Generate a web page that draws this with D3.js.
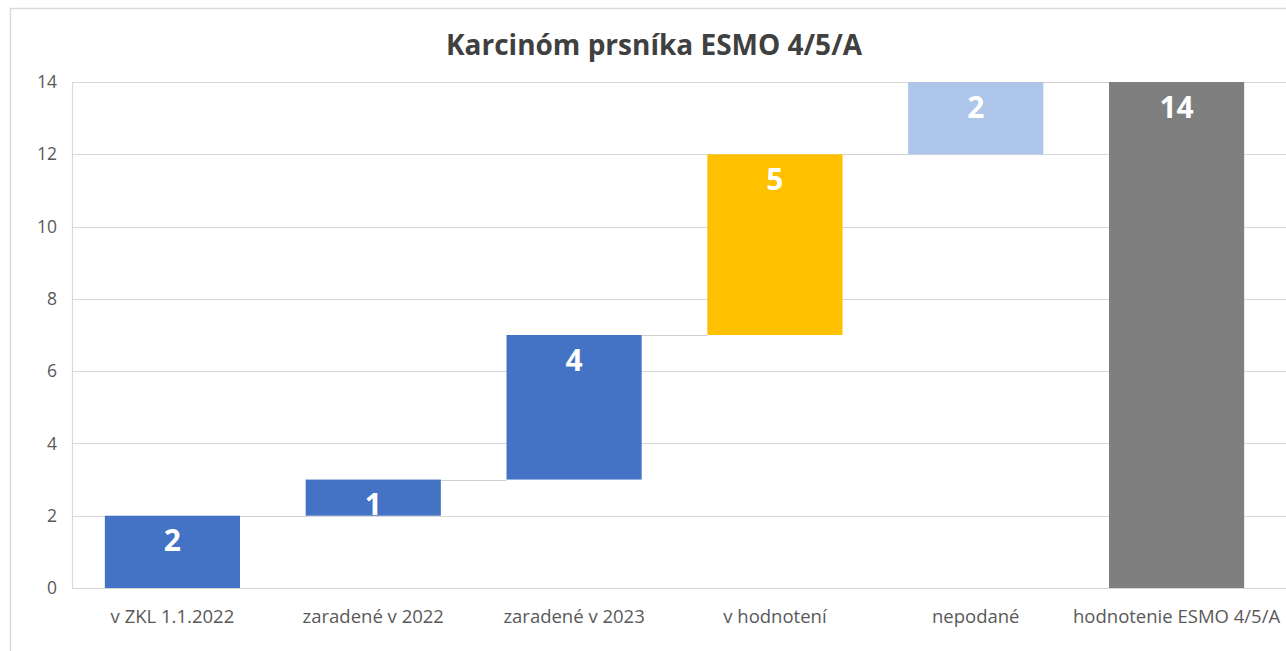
<!DOCTYPE html>
<html>
<head>
<meta charset="utf-8">
<script src="https://cdn.jsdelivr.net/npm/d3@7"></script>
<style>
  body { margin: 0; background: #fff; }
  svg { display: block; font-family: "Open Sans", "Liberation Sans", sans-serif; }
</style>
</head>
<body>
<div id="chart"></div>
<script>
"use strict";

var categories = ["v ZKL 1.1.2022", "zaradené v 2022", "zaradené v 2023", "v hodnotení", "nepodané", "hodnotenie ESMO 4/5/A"];
var deltas     = [2, 1, 4, 5, 2, 14];
var isTotal    = [false, false, false, false, false, true];
var barColors  = ["#4472C4", "#4472C4", "#4472C4", "#FFC000", "#ADC5E8", "#7F7F7F"];
var yTicks     = [0, 2, 4, 6, 8, 10, 12, 14];
var title      = "Karcinóm prsníka ESMO 4/5/A";

var width  = 1286;
var height = 651;
var plot   = { left: 72, right: 1277, top: 82, bottom: 588 };

// running totals -> start / end of each floating bar
var steps = [];
var running = 0;
deltas.forEach(function(d, i) {
  if (isTotal[i]) {
    steps.push({ name: categories[i], start: 0, end: d, value: d, color: barColors[i] });
    running = d;
  } else {
    steps.push({ name: categories[i], start: running, end: running + d, value: d, color: barColors[i] });
    running += d;
  }
});

var svg = d3.select("#chart").append("svg")
  .attr("width", width)
  .attr("height", height);

// outer chart frame (cropped on the right)
svg.append("path")
  .attr("d", "M1290,8.5H10.5V660")
  .attr("fill", "none")
  .attr("stroke", "#d9d9d9")
  .attr("stroke-width", 1.5);

var x = d3.scaleBand()
  .domain(categories)
  .range([plot.left, plot.right])
  .paddingInner(0.327)
  .paddingOuter(0.1635);

var y = d3.scaleLinear()
  .domain([0, 14])
  .range([plot.bottom, plot.top]);

// gridlines
svg.append("g")
  .selectAll("line")
  .data(yTicks)
  .enter().append("line")
  .attr("x1", plot.left)
  .attr("x2", width)
  .attr("y1", function(d) { return Math.round(y(d)) + 0.5; })
  .attr("y2", function(d) { return Math.round(y(d)) + 0.5; })
  .attr("stroke", "#d9d9d9")
  .attr("stroke-width", 1.2);

// left axis line
svg.append("line")
  .attr("x1", plot.left + 0.5).attr("x2", plot.left + 0.5)
  .attr("y1", plot.top).attr("y2", plot.bottom)
  .attr("stroke", "#d9d9d9")
  .attr("stroke-width", 1.2);

// y tick labels
svg.append("g")
  .selectAll("text")
  .data(yTicks)
  .enter().append("text")
  .attr("x", 57)
  .attr("y", function(d) { return y(d); })
  .attr("dy", "0.35em")
  .attr("text-anchor", "end")
  .attr("font-size", 17.5)
  .attr("fill", "#595959")
  .text(function(d) { return d; });

// connectors between bars
var connectors = steps.slice(0, -1).map(function(s, i) {
  return { from: s.name, to: steps[i + 1].name, level: s.end };
});
svg.append("g")
  .selectAll("line")
  .data(connectors)
  .enter().append("line")
  .attr("x1", function(d) { return x(d.from) + x.bandwidth(); })
  .attr("x2", function(d) { return x(d.to); })
  .attr("y1", function(d) { return Math.round(y(d.level)) + 0.5; })
  .attr("y2", function(d) { return Math.round(y(d.level)) + 0.5; })
  .attr("stroke", "#d0d0d0")
  .attr("stroke-width", 1.2);

// bars
svg.append("g")
  .selectAll("rect")
  .data(steps)
  .enter().append("rect")
  .attr("x", function(d) { return x(d.name); })
  .attr("y", function(d) { return y(d.end); })
  .attr("width", x.bandwidth())
  .attr("height", function(d) { return y(d.start) - y(d.end); })
  .attr("fill", function(d) { return d.color; });

// value labels (inside end)
svg.append("g")
  .selectAll("text")
  .data(steps)
  .enter().append("text")
  .attr("x", function(d) { return x(d.name) + x.bandwidth() / 2; })
  .attr("y", function(d) { return y(d.end) + 25; })
  .attr("dy", "0.35em")
  .attr("text-anchor", "middle")
  .attr("font-size", 30)
  .attr("font-weight", "bold")
  .attr("fill", "#ffffff")
  .text(function(d) { return d.value; });

// x category labels
svg.append("g")
  .selectAll("text")
  .data(categories)
  .enter().append("text")
  .attr("x", function(d) { return x(d) + x.bandwidth() / 2; })
  .attr("y", 617)
  .attr("dy", "0.35em")
  .attr("text-anchor", "middle")
  .attr("font-size", 18.5)
  .attr("fill", "#595959")
  .text(function(d) { return d; });

// title
svg.append("text")
  .attr("x", 654)
  .attr("y", 45)
  .attr("dy", "0.35em")
  .attr("text-anchor", "middle")
  .attr("font-size", 28)
  .attr("font-weight", "bold")
  .attr("fill", "#404040")
  .text(title);
</script>
</body>
</html>
